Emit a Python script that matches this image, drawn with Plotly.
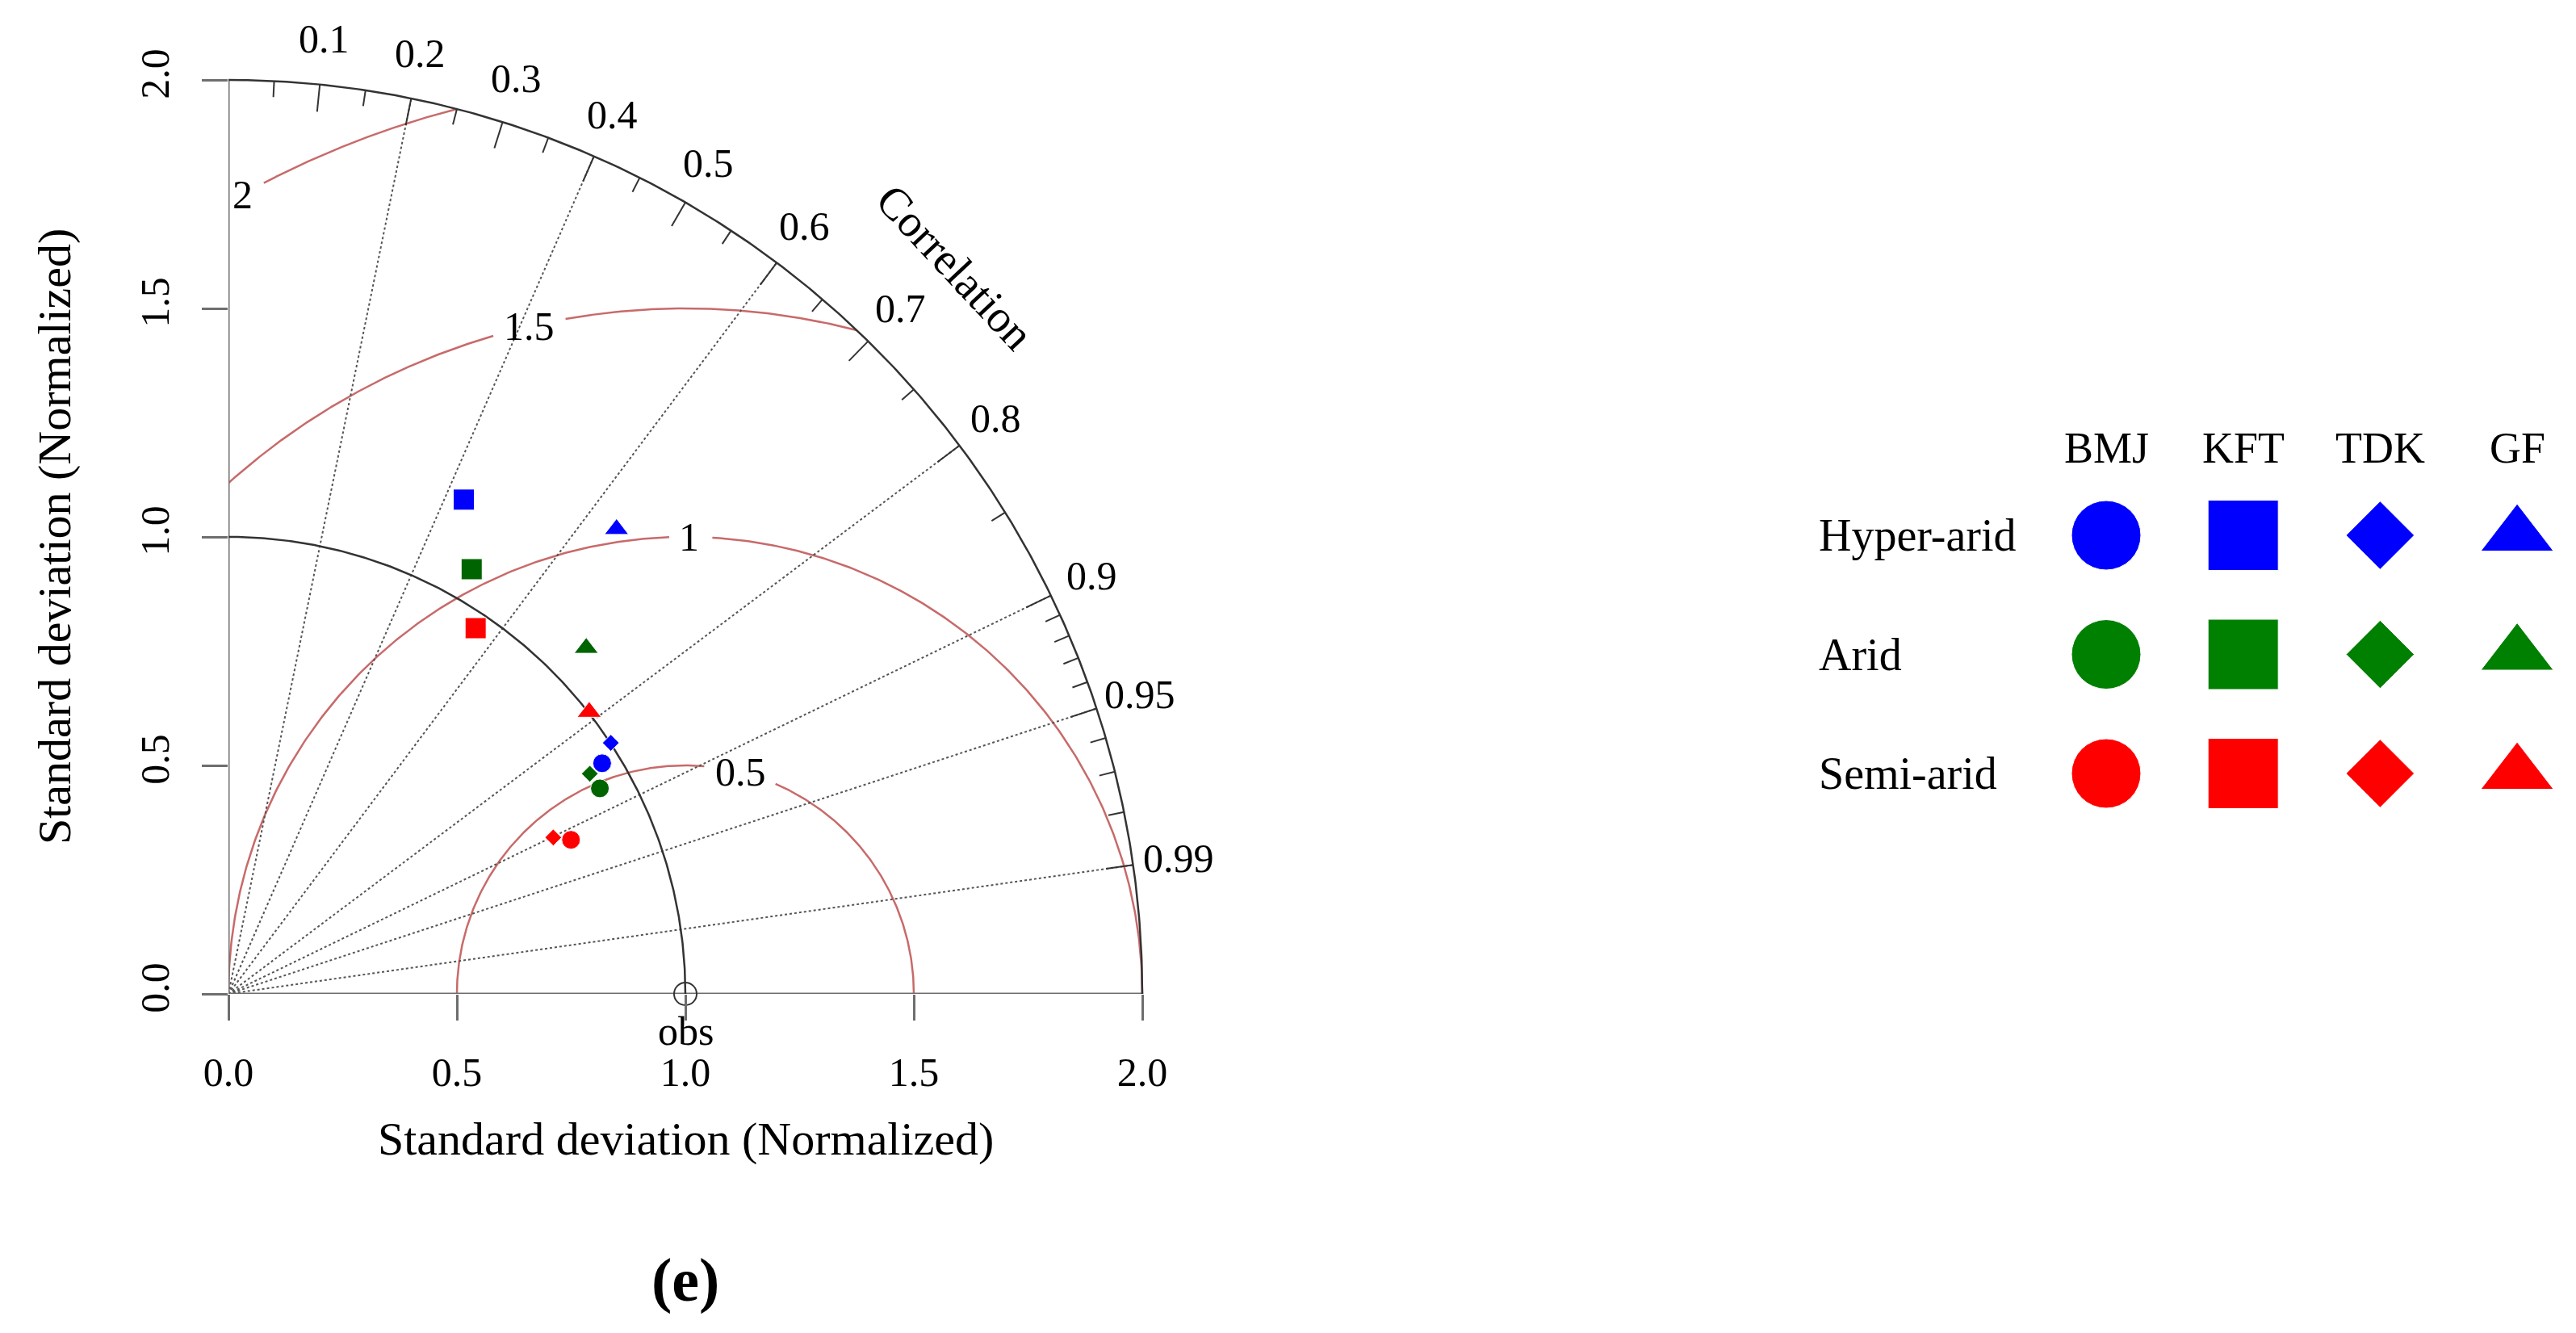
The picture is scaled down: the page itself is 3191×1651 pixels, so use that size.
import numpy as np
import plotly.graph_objects as go

schemes = ['BMJ', 'KFT', 'TDK', 'GF']
regions = ['Hyper-arid', 'Arid', 'Semi-arid']

# normalized standard deviation and correlation, order follows schemes
std_hyper = [0.961, 1.198, 1.001, 1.325]
cor_hyper = [0.851, 0.430, 0.836, 0.641]
std_arid = [0.929, 1.071, 0.926, 1.089]
cor_arid = [0.875, 0.497, 0.854, 0.719]
std_semi = [0.822, 0.966, 0.789, 1.002]
cor_semi = [0.912, 0.560, 0.901, 0.788]

cor_lines = [0.2, 0.4, 0.6, 0.8, 0.9, 0.95, 0.99]
cor_labels = [0.1, 0.2, 0.3, 0.4, 0.5, 0.6, 0.7, 0.8, 0.9, 0.95, 0.99]
cor_minor = [0.05, 0.15, 0.25, 0.35, 0.45, 0.55, 0.65, 0.75, 0.85,
             0.91, 0.92, 0.93, 0.94, 0.96, 0.97, 0.98]
rms_levels = [0.5, 1.0, 1.5, 2.0]
rms_text = ['0.5', '1', '1.5', '2']
sd_ticks = [0.0, 0.5, 1.0, 1.5, 2.0]

plot_colors = ['#0000FF', '#006400', '#FF0000']
legend_colors = ['#0000FF', '#008000', '#FF0000']
symbols = ['circle', 'square', 'diamond', 'triangle-up']

SERIF = 'Liberation Serif'
FS = 50
RMS_COL = '#C86A6A'
AX_COL = '#6E6E6E'
W, H = 3191, 1651
PAD = 8  # page body margin


def px(x):
    return (x - PAD) / W


def py(y):
    return 1 - (y - PAD) / H


UNIT = 566           # pixels per normalized sd unit
X0, Y0 = 283, 1231   # origin on the page
XMAX, YMAX = 2.3, 2.15

fig = go.Figure()


def add_line(xs, ys, color, width, dash='solid'):
    fig.add_trace(go.Scatter(x=xs, y=ys, mode='lines',
                             line=dict(color=color, width=width, dash=dash),
                             hoverinfo='skip', showlegend=False, cliponaxis=False))


# centred RMS arcs (around obs point) with gaps for their labels
rms_label_ang = {0.5: (76, 9), 1.0: (89.5, 2.5), 1.5: (103.2, 3.0), 2.0: (119, 1.5)}
for rr, txt in zip(rms_levels, rms_text):
    c0 = (3 - rr ** 2) / (2 * rr)
    t0 = np.degrees(np.arccos(min(1.0, c0)))
    t1 = 180.0 if rr <= 1 else np.degrees(np.arccos(-1 / rr))
    lab, half = rms_label_ang[rr]
    xs, ys = [], []
    prev_gap = False
    for t in np.linspace(t0, t1, 400):
        if abs(t - lab) < half:
            if not prev_gap:
                xs.append(None); ys.append(None)
            prev_gap = True
            continue
        prev_gap = False
        xs.append(1 + rr * np.cos(np.radians(t)))
        ys.append(rr * np.sin(np.radians(t)))
    add_line(xs, ys, RMS_COL, 2.5)
    fig.add_annotation(x=1 + rr * np.cos(np.radians(lab)), y=rr * np.sin(np.radians(lab)),
                       text=txt, showarrow=False, font=dict(family=SERIF, size=FS, color='black'))

# correlation rays
for c in cor_lines:
    a = np.arccos(c)
    add_line([0, 2 * np.cos(a)], [0, 2 * np.sin(a)], '#555555', 2, dash='dot')

# axis lines
add_line([-0.055, 2.0], [0, 0], AX_COL, 3)
add_line([0, 0], [0, 2.0], AX_COL, 3)

# standard deviation arcs (1 and 2)
th = np.linspace(0, np.pi / 2, 300)
add_line(2 * np.cos(th), 2 * np.sin(th), '#333333', 2.5)
add_line(1 * np.cos(th), 1 * np.sin(th), '#333333', 2.5)

# ticks on the outer arc
tx, ty = [], []
for c in cor_labels:
    a = np.arccos(c)
    tx += [2 * np.cos(a), 1.94 * np.cos(a), None]
    ty += [2 * np.sin(a), 1.94 * np.sin(a), None]
for c in cor_minor:
    a = np.arccos(c)
    tx += [2 * np.cos(a), 1.965 * np.cos(a), None]
    ty += [2 * np.sin(a), 1.965 * np.sin(a), None]
add_line(tx, ty, '#333333', 2)

# correlation labels
for c in cor_labels:
    a = np.arccos(c)
    fig.add_annotation(x=2.1 * np.cos(a), y=2.1 * np.sin(a), text=f'{c:g}', showarrow=False,
                       xanchor='center', yanchor='middle',
                       font=dict(family=SERIF, size=FS, color='black'))
fig.add_annotation(x=2.25 * np.cos(np.pi / 4), y=2.25 * np.sin(np.pi / 4), text='Correlation',
                   textangle=47, showarrow=False, xanchor='center', yanchor='middle',
                   font=dict(family=SERIF, size=56, color='black'))

# observation point
fig.add_trace(go.Scatter(x=[1.0], y=[0.0], mode='markers', cliponaxis=False, showlegend=False,
                         marker=dict(symbol='circle-open', size=28, color='#333333', opacity=1,
                                     line=dict(width=2, color='#333333'))))
fig.add_annotation(x=1.0, y=0.0, yshift=-46, text='obs', showarrow=False,
                   xanchor='center', yanchor='middle',
                   font=dict(family=SERIF, size=FS, color='black'))

# model points
point_sizes = [23, 26, 16, 26]
for std, cor, col in zip([std_hyper, std_arid, std_semi], [cor_hyper, cor_arid, cor_semi], plot_colors):
    std = np.array(std); cor = np.array(cor)
    fig.add_trace(go.Scatter(x=std * cor, y=std * np.sqrt(1 - cor ** 2), mode='markers',
                             cliponaxis=False, showlegend=False,
                             marker=dict(symbol=symbols, size=point_sizes, color=col, opacity=1)))

# legend grid on its own axes
legend_sizes = [86, 87, 65, 78]
for j, (reg, col) in enumerate(zip(regions, legend_colors)):
    fig.add_trace(go.Scatter(x=list(range(len(schemes))), y=[j] * len(schemes), mode='markers',
                             xaxis='x2', yaxis='y2', showlegend=False, cliponaxis=False,
                             marker=dict(symbol=symbols, size=legend_sizes, color=col, opacity=1)))
    fig.add_annotation(xref='paper', yref='y2', x=px(2251), y=j, xanchor='left', yanchor='middle',
                       text=reg, showarrow=False, font=dict(family=SERIF, size=56, color='black'))
for i, s in enumerate(schemes):
    fig.add_annotation(xref='x2', yref='paper', x=i, y=py(555), text=s, showarrow=False,
                       xanchor='center', yanchor='middle',
                       font=dict(family=SERIF, size=54, color='black'))

# axis titles and panel label
fig.add_annotation(xref='x', yref='paper', x=1.0, y=py(1410), text='Standard deviation (Normalized)',
                   showarrow=False, xanchor='center', yanchor='middle',
                   font=dict(family=SERIF, size=58, color='black'))
fig.add_annotation(xref='paper', yref='y', x=px(67), y=1.0, text='Standard deviation (Normalized)',
                   textangle=-90, showarrow=False, xanchor='center', yanchor='middle',
                   font=dict(family=SERIF, size=58, color='black'))
fig.add_annotation(xref='x', yref='paper', x=1.0, y=py(1585), text='<b>(e)</b>',
                   showarrow=False, xanchor='center', yanchor='middle',
                   font=dict(family=SERIF, size=76, color='black'))

axis_common = dict(showgrid=False, zeroline=False, showline=False, automargin=False,
                   ticks='outside', ticklen=32, tickwidth=3, tickcolor=AX_COL,
                   tickvals=sd_ticks, ticktext=[f'{v:.1f}' for v in sd_ticks],
                   ticklabelstandoff=21,
                   tickfont=dict(family=SERIF, size=FS, color='black'))

# legend axes: column spacing ~170 px starting at 2609, row spacing ~147.5 px starting at 663
lx0, lx1 = px(2393), 1.0
ly0, ly1 = py(1156), py(412)
col_step, row_step = 169.7, 147.5
x2_lo = -(2609 - 2393) / col_step
x2_hi = x2_lo + (lx1 - lx0) * W / col_step
y2_lo = -(663 - 412) / row_step
y2_hi = y2_lo + (ly1 - ly0) * H / row_step

fig.update_layout(
    width=W, height=H,
    margin=dict(l=0, r=0, t=0, b=0, autoexpand=False),
    paper_bgcolor='white', plot_bgcolor='white',
    xaxis=dict(domain=[px(X0), px(X0 + XMAX * UNIT)], range=[0, XMAX], **axis_common),
    yaxis=dict(domain=[py(Y0), py(Y0 - YMAX * UNIT)], range=[0, YMAX], tickangle=-90, **axis_common),
    xaxis2=dict(domain=[lx0, lx1], range=[x2_lo, x2_hi], visible=False, anchor='y2'),
    yaxis2=dict(domain=[ly0, ly1], range=[y2_hi, y2_lo], visible=False, anchor='x2'),
)

fig.write_html('out.html')
